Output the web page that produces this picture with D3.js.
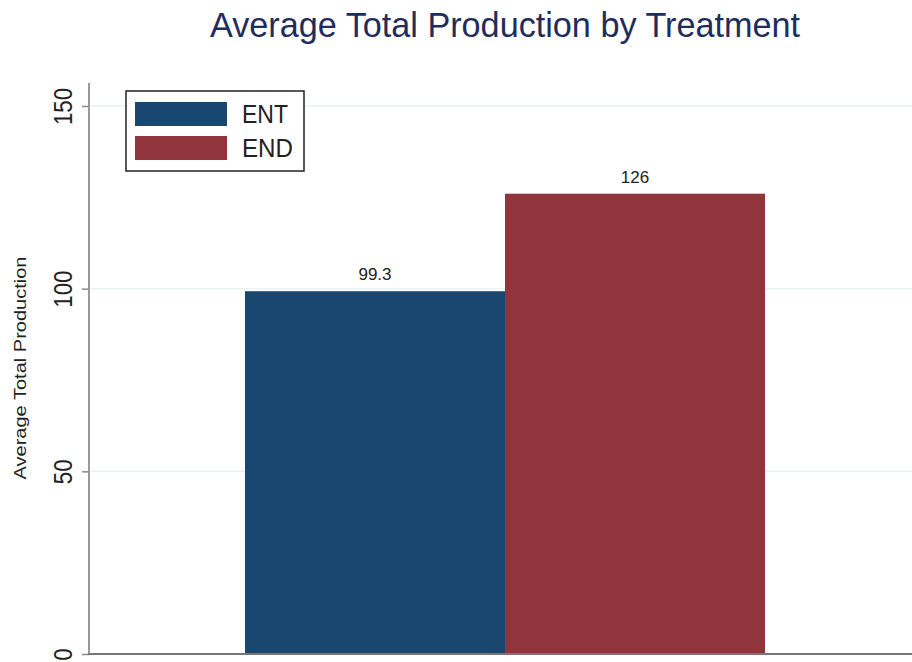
<!DOCTYPE html>
<html>
<head>
<meta charset="utf-8">
<script src="https://cdn.jsdelivr.net/npm/d3@7"></script>
<style>
	body { margin: 0; background: #fff; }
	svg { display: block; font-family: "Liberation Sans", Arial, sans-serif; }
</style>
</head>
<body>
<div id="chart"></div>
<script>
	var groups = ["ENT", "END"];
	var values = [99.3, 126];
	var valueLabels = ["99.3", "126"];
	var colors = ["#1a476f", "#90353b"];
	var yTicks = [0, 50, 100, 150];

	var width = 912, height = 662;
	var plotLeft = 89, plotRight = 921, plotTop = 83, plotBottom = 654;

	var svg = d3.select('#chart').append('svg')
		.attr('width', width)
		.attr('height', height);

	var x = d3.scaleBand()
		.domain(groups)
		.range([plotLeft, plotRight])
		.paddingInner(0)
		.paddingOuter(0.6);

	var y = d3.scaleLinear()
		.domain([0, 150])
		.range([plotBottom, 106]);

	// title
	svg.append('text')
		.attr('x', 505)
		.attr('y', 37)
		.attr('text-anchor', 'middle')
		.attr('fill', '#1f2d5c')
		.style('font-size', '35px')
		.attr('textLength', 590)
		.attr('lengthAdjust', 'spacingAndGlyphs')
		.text('Average Total Production by Treatment');

	// gridlines
	svg.append('g').selectAll('line')
		.data(yTicks.filter(d => d > 0))
		.enter().append('line')
		.attr('x1', plotLeft).attr('x2', plotRight)
		.attr('y1', d => y(d)).attr('y2', d => y(d))
		.attr('stroke', '#eaf2f3')
		.attr('stroke-width', 1.5);

	// bars
	svg.append('g').selectAll('rect')
		.data(groups)
		.enter().append('rect')
		.attr('x', d => x(d))
		.attr('y', (d, i) => y(values[i]))
		.attr('width', x.bandwidth())
		.attr('height', (d, i) => y(0) - y(values[i]))
		.attr('fill', (d, i) => colors[i]);

	// bar labels
	svg.append('g').selectAll('text')
		.data(groups)
		.enter().append('text')
		.attr('x', d => x(d) + x.bandwidth() / 2)
		.attr('y', (d, i) => y(values[i]) - 11)
		.attr('text-anchor', 'middle')
		.attr('fill', '#222')
		.style('font-size', '17px')
		.text((d, i) => valueLabels[i]);

	// y axis
	var yAxis = svg.append('g')
		.attr('transform', 'translate(' + plotLeft + ',0)')
		.call(d3.axisLeft(y).tickValues(yTicks).tickSize(7).tickPadding(0));
	yAxis.select('.domain').remove();
	yAxis.selectAll('.tick line').attr('stroke', '#888').attr('stroke-width', 1.5);
	yAxis.selectAll('.tick text')
		.attr('x', 0).attr('y', 0).attr('dy', 0)
		.attr('transform', 'translate(-17,0) rotate(-90)')
		.attr('text-anchor', 'middle')
		.attr('fill', '#222')
		.style('font-size', '25px')
		.style('font-family', '"Liberation Sans", Arial, sans-serif')
		.each(function(d) {
			d3.select(this).attr('textLength', String(d).length * 12.4)
				.attr('lengthAdjust', 'spacingAndGlyphs');
		});

	svg.append('line')
		.attr('x1', plotLeft).attr('x2', plotLeft)
		.attr('y1', plotTop).attr('y2', plotBottom)
		.attr('stroke', '#999').attr('stroke-width', 2);

	svg.append('line')
		.attr('x1', plotLeft - 1).attr('x2', plotRight)
		.attr('y1', plotBottom).attr('y2', plotBottom)
		.attr('stroke', '#777').attr('stroke-width', 2);

	// y axis title
	svg.append('text')
		.attr('transform', 'translate(26,368) rotate(-90)')
		.attr('text-anchor', 'middle')
		.attr('fill', '#222')
		.style('font-size', '16px')
		.attr('textLength', 223)
		.attr('lengthAdjust', 'spacingAndGlyphs')
		.text('Average Total Production');

	// legend
	var legend = svg.append('g');
	legend.append('rect')
		.attr('x', 126).attr('y', 91)
		.attr('width', 178).attr('height', 80)
		.attr('fill', '#fff')
		.attr('stroke', '#222')
		.attr('stroke-width', 1.5);

	var legendLengths = [46, 51];
	var items = legend.selectAll('.item')
		.data(groups)
		.enter().append('g')
		.attr('class', 'item')
		.attr('transform', (d, i) => 'translate(0,' + (i * 34) + ')');
	items.append('rect')
		.attr('x', 135).attr('y', 102)
		.attr('width', 92).attr('height', 24)
		.attr('fill', (d, i) => colors[i]);
	items.append('text')
		.attr('x', 242).attr('y', 123)
		.attr('fill', '#222')
		.style('font-size', '26px')
		.attr('textLength', (d, i) => legendLengths[i])
		.attr('lengthAdjust', 'spacingAndGlyphs')
		.text(d => d);
</script>
</body>
</html>
